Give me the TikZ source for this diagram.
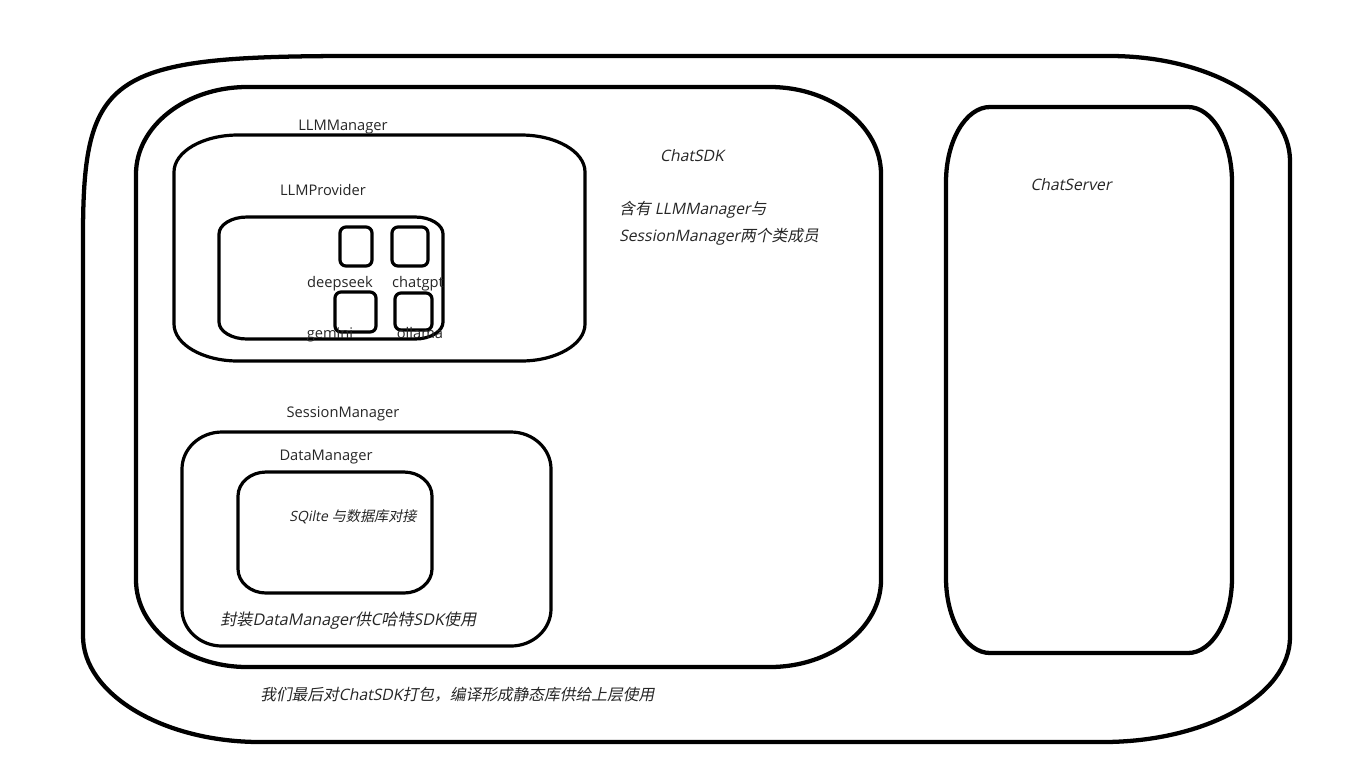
\documentclass[tikz,border=0pt]{standalone}
\usepackage{fontspec}
\setmainfont{Open Sans}
\newfontfamily\latup{Open Sans}
\newfontfamily\latit[FakeSlant=0.2]{Open Sans}
\newfontfamily\cjkit[FakeSlant=0.2]{Noto Sans CJK SC}

% soft rounded box: [style] x1 y1 x2 y2 h v k
\newcommand{\softbox}[8][]{%
  \draw[#1] (#2,{#3+#7})
    .. controls (#2,{#3+(1-#8)*#7}) and ({#2+(1-#8)*#6},#3) .. ({#2+#6},#3)
    -- ({#4-#6},#3)
    .. controls ({#4-(1-#8)*#6},#3) and (#4,{#3+(1-#8)*#7}) .. (#4,{#3+#7})
    -- (#4,{#5-#7})
    .. controls (#4,{#5-(1-#8)*#7}) and ({#4-(1-#8)*#6},#5) .. ({#4-#6},#5)
    -- ({#2+#6},#5)
    .. controls ({#2+(1-#8)*#6},#5) and (#2,{#5-(1-#8)*#7}) .. (#2,{#5-#7})
    -- cycle;}

\begin{document}
\begin{tikzpicture}[x=0.75pt,y=-0.75pt,
  thick box/.style={draw=black,line width=3.2pt,line join=round},
  mid box/.style={draw=black,line width=2.4pt,line join=round},
  small box/.style={draw=black,line width=2.4pt,rounded corners=4.5pt,inner sep=0pt},
  lbl/.style={font=\latup\fontsize{11}{13}\selectfont,inner sep=0pt,anchor=base,text=black!85},
  itl/.style={font=\latit\fontsize{11.8}{14}\selectfont,inner sep=0pt,anchor=base west,text=black!85},
  itc/.style={itl,anchor=base}]
\path[use as bounding box,fill=white] (0,0) rectangle (1362,769);

% outer package shape
\draw[thick box] (83,236)
  .. controls (83,74) and (110,56) .. (353,56)
  -- (1110,56)
  .. controls (1209,56) and (1290,103) .. (1290,161)
  -- (1290,637)
  .. controls (1290,695) and (1206,742) .. (1103,742)
  -- (260,742)
  .. controls (163,742) and (83,694) .. (83,636)
  -- cycle;

% ChatSDK
\softbox[thick box]{136}{87}{881}{667}{111}{87}{0.55}
% ChatServer
\softbox[thick box]{946}{107}{1232}{653}{44}{75}{0.55}
% LLMManager
\softbox[mid box]{174}{135}{585}{361}{64}{37}{0.55}
% LLMProvider
\softbox[mid box]{219}{217}{443}{339}{28}{17}{0.55}
% SessionManager
\softbox[mid box]{182}{432}{551}{646}{40}{37}{0.55}
% DataManager
\softbox[mid box]{238}{472}{432}{593}{28}{24}{0.55}

% provider boxes
\node[small box,minimum width=24pt,minimum height=29.25pt] (dsbox) at (356,246.5) {};
\node[small box,minimum width=27pt,minimum height=29.25pt] (gptbox) at (410,246.5) {};
\node[small box,minimum width=30.75pt,minimum height=30pt] (gembox) at (355.5,312) {};
\node[small box,minimum width=27.75pt,minimum height=27.75pt] (olbox) at (413.5,311.5) {};

% labels
\node[lbl] (llmm) at (343,130) {LLMManager};
\node[lbl] (llmp) at (323,195) {LLMProvider};
\node[lbl] (ds) at (340,287) {deepseek};
\node[lbl] (gpt) at (418,287) {chatgpt};
\node[lbl] (gem) at (330,338) {gemini};
\node[lbl] (oll) at (420,338) {ollama};
\node[lbl] (sm) at (343,417) {SessionManager};
\node[lbl] (dm) at (326,460) {DataManager};

\node[itc] (sdk) at (692,161) {ChatSDK};
\node[itl] (sdk1) at (619,214) {{\cjkit 含有} LLMManager{\cjkit 与}};
\node[itl] (sdk2) at (619,241) {SessionManager{\cjkit 两个类成员}};
\node[itc] (srv) at (1071,190) {ChatServer};
\node[itl,font=\latit\fontsize{10.6}{13}\selectfont] (sql) at (289,521) {SQilte {\cjkit 与数据库对接}};
\node[itl,font=\latit\fontsize{12.1}{14}\selectfont] (wrap) at (220,625) {{\cjkit 封装}DataManager{\cjkit 供}C{\cjkit 哈特}SDK{\cjkit 使用}};
\node[itl] (pack) at (260,700) {{\cjkit 我们最后对}ChatSDK{\cjkit 打包，编译形成静态库供给上层使用}};
\end{tikzpicture}
\end{document}
